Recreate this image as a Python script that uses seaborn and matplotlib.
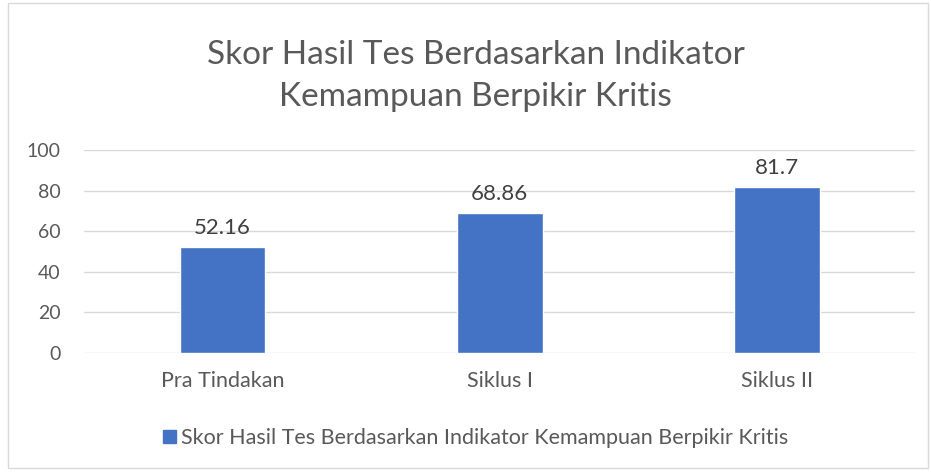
import matplotlib.pyplot as plt
import seaborn as sns
import pandas as pd
from matplotlib.patches import Rectangle, Patch

kategori = ["Pra Tindakan", "Siklus I", "Siklus II"]
skor = [52.16, 68.86, 81.7]
label_skor = ["52.16", "68.86", "81.7"]
nama_seri = "Skor Hasil Tes Berdasarkan Indikator Kemampuan Berpikir Kritis"
judul = "Skor Hasil Tes Berdasarkan Indikator\nKemampuan Berpikir Kritis"

sns.set_theme(style="white")
plt.rcParams['font.family'] = ['Lato', 'DejaVu Sans']

teks = "#595959"
biru = "#4472C4"

df = pd.DataFrame({"kategori": kategori, "skor": skor})

fig = plt.figure(figsize=(9.31, 4.72), dpi=100)
ax = fig.add_axes([0.0902, 0.252, 0.893, 0.430])

sns.barplot(data=df, x="kategori", y="skor", color=biru, width=0.31,
            saturation=1, ax=ax, zorder=3)

for p, lab in zip(ax.patches, label_skor):
    ax.text(p.get_x() + p.get_width() / 2, p.get_height() + 4.5, lab,
            ha="center", va="bottom", fontsize=16, color="#404040")

ax.set_ylim(0, 100)
ax.set_yticks(range(0, 101, 20))
ax.grid(axis="y", color="#D9D9D9", linewidth=1, zorder=0)
for s in ax.spines.values():
    s.set_visible(False)
ax.set_xlabel("")
ax.set_ylabel("")
ax.tick_params(axis="both", length=0, labelsize=14, colors=teks)
ax.tick_params(axis="x", labelsize=15.5, pad=13)
ax.tick_params(axis="y", pad=17)

fig.text(0.511, 0.840, judul, ha="center", va="center", fontsize=24,
         color=teks, linespacing=1.5)

fig.legend(handles=[Patch(color=biru, label=nama_seri)], loc="center",
           bbox_to_anchor=(0.511, 0.072), frameon=False, fontsize=15.5,
           handlelength=0.6, handleheight=0.6, handletextpad=0.25,
           labelcolor=teks)

fig.patches.append(Rectangle((0.009, 0.008), 0.988, 0.985, transform=fig.transFigure,
                             fill=False, edgecolor="#D9D9D9", linewidth=1))

fig.savefig("out.png", dpi=100)
